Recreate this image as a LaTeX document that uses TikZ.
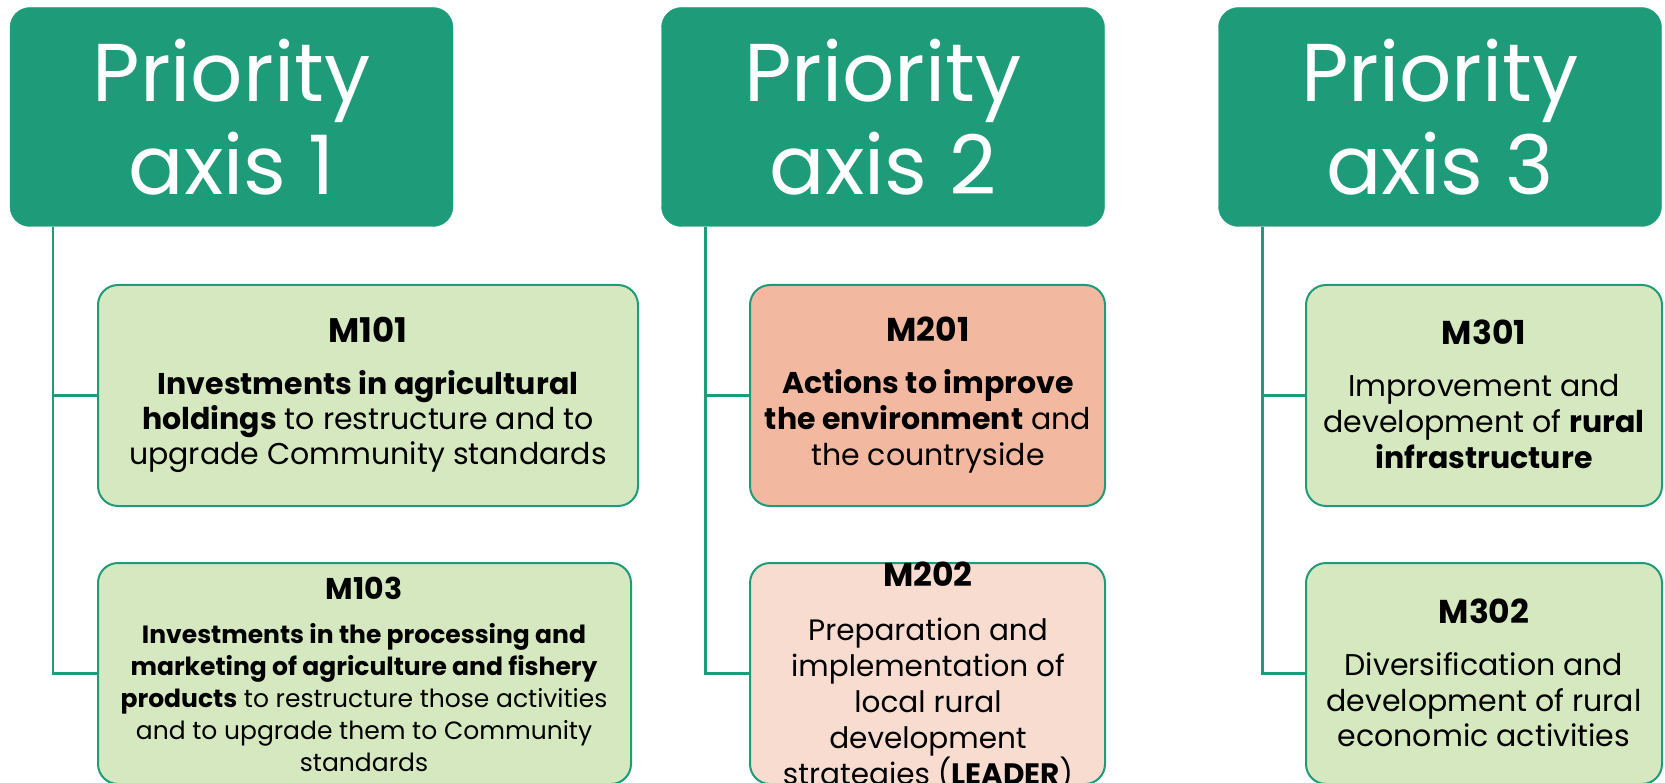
\documentclass[tikz,border=0pt]{standalone}
\usepackage{fontspec}
\setmainfont{Poppins}
\usetikzlibrary{fit}
\definecolor{tealA}{HTML}{1E9B79}
\definecolor{greenF}{HTML}{D5E8BF}
\definecolor{salmonF}{HTML}{F2B8A0}
\definecolor{peachF}{HTML}{F8DCD0}
\newcommand{\mtitle}[2]{{\fontsize{#1}{#1}\selectfont\bfseries #2}}
\tikzset{
  hdr/.style={fill=tealA, draw=tealA, rounded corners=20pt, inner sep=0pt, text=white, align=center,
    minimum width=443pt, minimum height=219pt, font=\fontsize{82}{93}\selectfont},
  mbox/.style={draw=tealA, line width=2pt, rounded corners=20pt, inner sep=0pt},
  txt/.style={align=center, inner sep=0pt, text=black},
  conn/.style={draw=tealA, line width=2.5pt}
}
\begin{document}
\begin{tikzpicture}[x=1pt,y=-1pt]
\useasboundingbox (0,0) rectangle (1665,783);
% headers
\node[hdr] (h1) at (231.5,117) {Priority\\axis 1};
\node[hdr] (h2) at (883,117) {Priority\\axis 2};
\node[hdr] (h3) at (1440,117) {Priority\\axis 3};
% boxes
\node[mbox, fill=greenF, fit={(98,285) (638,506)}] (m101) {};
\node[mbox, fill=greenF, fit={(98,563) (631,784)}] (m103) {};
\node[mbox, fill=salmonF, fit={(750,285) (1105,506)}] (m201) {};
\node[mbox, fill=peachF, fit={(750,563) (1105,784)}] (m202) {};
\node[mbox, fill=greenF, fit={(1306,285) (1662,506)}] (m301) {};
\node[mbox, fill=greenF, fit={(1306,563) (1662,784)}] (m302) {};
% connectors
\draw[conn] ([xshift=43pt]h1.south west) |- (m103.west);
\draw[conn] ([xshift=43pt]h1.south west |- m101.west) -- (m101.west);
\draw[conn] ([xshift=44pt]h2.south west) |- (m202.west);
\draw[conn] ([xshift=44pt]h2.south west |- m201.west) -- (m201.west);
\draw[conn] ([xshift=44pt]h3.south west) |- (m302.west);
\draw[conn] ([xshift=44pt]h3.south west |- m301.west) -- (m301.west);
% texts
\node[txt, font=\fontsize{30}{35}\selectfont] (t101) at (368,395)
  {\mtitle{34}{M101}\\[17pt]\textbf{Investments in agricultural}\\\textbf{holdings} to restructure and to\\upgrade Community standards};
\node[txt, font=\fontsize{25}{32}\selectfont] (t103) at (364,674)
  {\mtitle{30}{M103}\\[12pt]\textbf{Investments in the processing and}\\\textbf{marketing of agriculture and fishery}\\\textbf{products} to restructure those activities\\and to upgrade them to Community\\standards};
\node[txt, font=\fontsize{30}{36}\selectfont] (t201) at (928,395)
  {\mtitle{33}{M201}\\[16pt]\textbf{Actions to improve}\\\textbf{the environment} and\\the countryside};
\node[txt, font=\fontsize{29.5}{36}\selectfont] (t202) at (928,677)
  {\mtitle{33}{M202}\\[18pt]Preparation and\\implementation of\\local rural\\development\\strategies (\textbf{LEADER})};
\node[txt, font=\fontsize{30}{36}\selectfont] (t301) at (1484,394)
  {\mtitle{33}{M301}\\[16pt]Improvement and\\development of \textbf{rural}\\\textbf{infrastructure}};
\node[txt, font=\fontsize{30}{35.5}\selectfont] (t302) at (1484,673)
  {\mtitle{33}{M302}\\[17pt]Diversification and\\development of rural\\economic activities};
\end{tikzpicture}
\end{document}
